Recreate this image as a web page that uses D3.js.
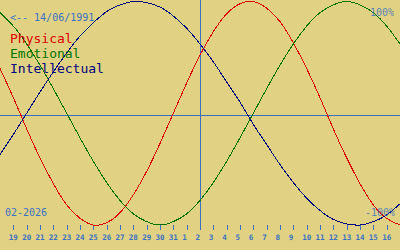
<!DOCTYPE html>
<html>
<head>
<meta charset="utf-8">
<script src="https://cdn.jsdelivr.net/npm/d3@7"></script>
<style>
  html, body { margin: 0; padding: 0; background: #e0d282; }
  svg { display: block; }
  .mono { font-family: "DejaVu Sans Mono", monospace; }
</style>
</head>
<body>
<div id="chart"></div>
<script>
// biorhythm chart, one point per day from 18 Jan to 17 Feb 2026

var svgWidth = 400;
var svgHeight = 250;

// day of month for each sample (18 Jan .. 17 Feb)
var dayLabels = [18, 19, 20, 21, 22, 23, 24, 25, 26, 27, 28, 29, 30, 31,
                 1, 2, 3, 4, 5, 6, 7, 8, 9, 10, 11, 12, 13, 14, 15, 16, 17];

var todayIndex = 15; // 2 Feb

var physical = [0.40, 0.14, -0.14, -0.40, -0.63, -0.82, -0.94, -1.00, -0.98, -0.89, -0.73, -0.52, -0.27,
                0.00, 0.27, 0.52, 0.73, 0.89, 0.98, 1.00, 0.94, 0.82, 0.63, 0.40, 0.14,
                -0.14, -0.40, -0.63, -0.82, -0.94, -1.00];

var emotional = [0.90, 0.78, 0.62, 0.43, 0.22, 0.00, -0.22, -0.43, -0.62, -0.78, -0.90, -0.97, -1.00,
                 -0.97, -0.90, -0.78, -0.62, -0.43, -0.22, 0.00, 0.22, 0.43, 0.62, 0.78, 0.90,
                 0.97, 1.00, 0.97, 0.90, 0.78, 0.62];

var intellectual = [-0.37, -0.19, 0.00, 0.19, 0.37, 0.54, 0.69, 0.81, 0.91, 0.97, 1.00, 0.99, 0.95,
                    0.87, 0.76, 0.62, 0.46, 0.28, 0.10, -0.10, -0.28, -0.46, -0.62, -0.76, -0.87,
                    -0.95, -0.99, -1.00, -0.97, -0.91, -0.81];

var seriesNames = ["Physical", "Emotional", "Intellectual"];
var seriesColors = ["#dc0000", "#007400", "#000080"];

var birthText = "<-- 14/06/1991";
var monthText = "02-2026";
var topText = "100%";
var bottomText = "-100%";

var blue = "#3a70c4";

var svg = d3.select("#chart")
    .append("svg")
    .attr("width", svgWidth)
    .attr("height", svgHeight);

svg.append("rect")
    .attr("width", svgWidth)
    .attr("height", svgHeight)
    .attr("fill", "#e0d282");

// scales
var xScale = d3.scaleLinear()
    .domain([0, dayLabels.length - 1])
    .range([0, svgWidth]);

var yScale = d3.scaleLinear()
    .domain([-1, 1])
    .range([225, 1.5]);

var midY = 115;

// zero line and today marker
svg.append("line")
    .attr("x1", 0)
    .attr("x2", svgWidth)
    .attr("y1", midY + 0.5)
    .attr("y2", midY + 0.5)
    .attr("stroke", blue)
    .attr("stroke-width", 1)
    .attr("shape-rendering", "crispEdges");

svg.append("line")
    .attr("x1", Math.round(xScale(todayIndex)) + 0.5)
    .attr("x2", Math.round(xScale(todayIndex)) + 0.5)
    .attr("y1", 0)
    .attr("y2", 230)
    .attr("stroke", blue)
    .attr("stroke-width", 1)
    .attr("shape-rendering", "crispEdges");

// day axis
var bottomAxis = d3.axisBottom(xScale)
    .tickValues(d3.range(1, dayLabels.length - 1))
    .tickFormat(i => dayLabels[i])
    .tickSize(5)
    .tickPadding(5);

var axisG = svg.append("g")
    .attr("transform", "translate(0, 225)")
    .call(bottomAxis);

axisG.select(".domain").remove();
axisG.selectAll("line")
    .attr("stroke", blue)
    .attr("shape-rendering", "crispEdges");
axisG.selectAll("text")
    .attr("fill", blue)
    .attr("text-anchor", "start")
    .attr("dx", -5)
    .attr("font-family", "DejaVu Sans Mono, monospace")
    .attr("font-weight", "bold")
    .attr("font-size", "7.5px");

// curves
var lineGen = d3.line()
    .x((d, i) => xScale(i))
    .y(d => yScale(d))
    .curve(d3.curveNatural);

var allSeries = [physical, emotional, intellectual];

svg.selectAll(".curve")
    .data(allSeries)
    .enter()
    .append("path")
    .attr("class", "curve")
    .attr("d", d => lineGen(d))
    .attr("fill", "none")
    .attr("stroke", (d, i) => seriesColors[i])
    .attr("stroke-width", 1)
    .attr("shape-rendering", "crispEdges");

// texts
svg.append("text")
    .attr("class", "mono")
    .attr("x", 10)
    .attr("y", 20.5)
    .attr("font-size", "10px")
    .attr("fill", blue)
    .text(birthText);

svg.selectAll(".legend")
    .data(seriesNames)
    .enter()
    .append("text")
    .attr("class", "mono legend")
    .attr("x", 10)
    .attr("y", (d, i) => 43 + i * 15)
    .attr("font-size", "13px")
    .attr("fill", (d, i) => seriesColors[i])
    .text(d => d);

svg.append("text")
    .attr("class", "mono")
    .attr("x", 5)
    .attr("y", 216)
    .attr("font-size", "10px")
    .attr("fill", blue)
    .text(monthText);

svg.append("text")
    .attr("class", "mono")
    .attr("x", 394)
    .attr("y", 16)
    .attr("text-anchor", "end")
    .attr("font-size", "10px")
    .attr("fill", blue)
    .attr("opacity", 0.8)
    .text(topText);

svg.append("text")
    .attr("class", "mono")
    .attr("x", 395)
    .attr("y", 216)
    .attr("text-anchor", "end")
    .attr("font-size", "10px")
    .attr("fill", blue)
    .attr("opacity", 0.8)
    .text(bottomText);
</script>
</body>
</html>
